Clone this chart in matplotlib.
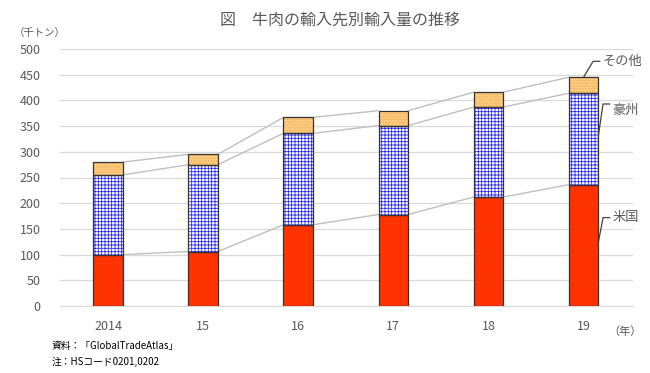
import matplotlib
matplotlib.use("Agg")
import matplotlib.pyplot as plt
import numpy as np

plt.rcParams['font.family'] = ['Noto Sans CJK JP', 'DejaVu Sans']
plt.rcParams['hatch.linewidth'] = 0.6

# data (thousand tonnes)
years = ["2014", "15", "16", "17", "18", "19"]
us = [100, 106, 158, 178, 212, 236]
aus = [155, 169, 178, 173, 175, 178]
other = [25, 20, 31, 29, 29, 31]
series_names = ["米国", "豪州", "その他"]

TXT = "#595959"
x = np.arange(len(years))
w = 0.31
us_a = np.array(us)
aus_a = np.array(aus)
oth_a = np.array(other)

fig = plt.figure(figsize=(6.5, 3.73), dpi=100)
ax = fig.add_axes([60 / 650, 67 / 373, 573 / 650, 257 / 373])

# fills
ax.bar(x, us_a, w, color="#FF3300", edgecolor="none", zorder=3)
ax.bar(x, aus_a, w, bottom=us_a, color="white", edgecolor="#2B2BFF",
       hatch="+++++", linewidth=0, zorder=3)
ax.bar(x, oth_a, w, bottom=us_a + aus_a, color="#FFCC80", edgecolor="#F0A850",
       hatch="......", linewidth=0, zorder=3)
# outlines
for vals, bot in [(us_a, 0), (aus_a, us_a), (oth_a, us_a + aus_a)]:
    ax.bar(x, vals, w, bottom=bot, fill=False, edgecolor="#333333",
           linewidth=0.9, zorder=4)

# series lines between bars
tops = [us_a, us_a + aus_a, us_a + aus_a + oth_a]
for t in tops:
    for i in range(len(x) - 1):
        ax.plot([x[i] + w / 2, x[i + 1] - w / 2], [t[i], t[i + 1]],
                color="#BFBFBF", lw=1.0, zorder=2)

# series labels on the last bar
last = len(x) - 1
mids = [us_a[last] / 2 + 5, us_a[last] + aus_a[last] * 0.53, tops[2][last]]
line_y = [172, 393, 476]
text_y = [172, 380, 476]
starts_x = [x[last] + w / 2, x[last] + w / 2, x[last]]
for name, sx, sy, ly, ty in zip(series_names, starts_x, mids, line_y, text_y):
    kx = x[last] + w / 2 + 0.05 if name != "その他" else x[last] + 0.1
    ax.plot([sx, kx, kx + 0.07], [sy, ly, ly], color="#404040", lw=0.9,
            zorder=5, clip_on=False)
    ax.text(kx + 0.1, ty, name, fontsize=9.5, color=TXT, va="center",
            ha="left", zorder=5)

ax.set_xlim(-0.505, 5.52)
ax.set_ylim(0, 500)
ax.set_yticks(range(0, 501, 50))
ax.set_xticks(x)
ax.set_xticklabels(years)
ax.yaxis.grid(True, color="#D9D9D9", lw=0.9, zorder=0)
ax.set_axisbelow(True)
for s in ["top", "right", "left"]:
    ax.spines[s].set_visible(False)
ax.spines["bottom"].set_color("#D9D9D9")
ax.tick_params(axis="both", length=0, labelsize=9, colors=TXT)
ax.tick_params(axis="y", pad=14)
ax.tick_params(axis="x", pad=10)

fig.text(340 / 650, 1 - 20 / 373, "図　牛肉の輸入先別輸入量の推移", fontsize=11.5,
         color=TXT, ha="center", va="center")
fig.text(14 / 650, 1 - 33 / 373, "（千トン）", fontsize=7.5, color=TXT,
         ha="left", va="center")
fig.text(608 / 650, 1 - 332 / 373, "（年）", fontsize=8, color=TXT,
         ha="left", va="center")
fig.text(52 / 650, 1 - 346 / 373, "資料：「GlobalTradeAtlas」", fontsize=7,
         color="black", ha="left", va="center")
fig.text(52 / 650, 1 - 362 / 373, "注：HSコード0201,0202", fontsize=7,
         color="black", ha="left", va="center")

fig.savefig("out.png", dpi=100)
